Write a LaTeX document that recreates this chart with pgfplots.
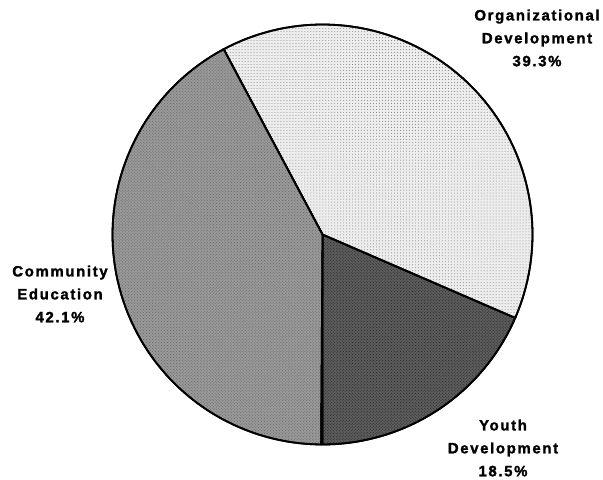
\documentclass[border=0pt]{standalone}
\usepackage{fontspec}
\setmainfont{Liberation Sans}[LetterSpace=11, BoldFeatures={FakeBold=1.6}]
\usepackage{pgfplots}
\pgfplotsset{compat=1.18}
\usepackage{pgfplotstable}
\usepgfplotslibrary{polar}
\usetikzlibrary{patterns}

% slice shares in percent, counter-clockwise from straight down
\pgfplotstableread{
label share
Youth 18.5
Organizational 39.3
Community 42.1
}\piedata

\begin{document}
\begin{tikzpicture}
\path[use as bounding box] (0,0) rectangle (603bp,480bp);
\pgfplotstablegetelem{0}{share}\of\piedata \let\sA\pgfplotsretval
\pgfplotstablegetelem{1}{share}\of\piedata \let\sB\pgfplotsretval
\pgfplotstablegetelem{2}{share}\of\piedata \let\sC\pgfplotsretval
\pgfmathsetmacro{\aA}{-90}
\pgfmathsetmacro{\aB}{\aA+3.6*\sA}
\pgfmathsetmacro{\aC}{\aB+3.6*\sB}
\pgfmathsetmacro{\aD}{\aC+3.6*\sC}
\begin{polaraxis}[
  hide axis,
  scale only axis,
  width=420bp,
  ymin=0, ymax=1,
  anchor=center,
  at={(322.5bp,245.5bp)},
  clip=false,
]
\addplot[draw=black, line width=1.8bp, fill=black!64,
  postaction={pattern=crosshatch dots, pattern color=black!85},
  domain=\aA:\aB, samples=60, mark=none] {1} -- (axis cs:0,0) -- cycle;
\addplot[draw=black, line width=1.8bp, fill=black!7,
  postaction={pattern=dots, pattern color=black!50},
  domain=\aB:\aC, samples=80, mark=none] {1} -- (axis cs:0,0) -- cycle;
\addplot[draw=black, line width=1.8bp, fill=black!40,
  postaction={pattern=crosshatch dots, pattern color=black!60},
  domain=\aC:\aD, samples=80, mark=none] {1} -- (axis cs:0,0) -- cycle;
\end{polaraxis}
\tikzset{lbl/.style={align=center, inner sep=0pt, font=\bfseries\fontsize{15}{23}\selectfont}}
\node[lbl] at (537bp,442bp) {Organizational\\Development\\39.3\%};
\node[lbl] at (60bp,186bp) {Community\\Education\\42.1\%};
\node[lbl] at (503bp,32bp) {Youth\\Development\\18.5\%};
\end{tikzpicture}
\end{document}
